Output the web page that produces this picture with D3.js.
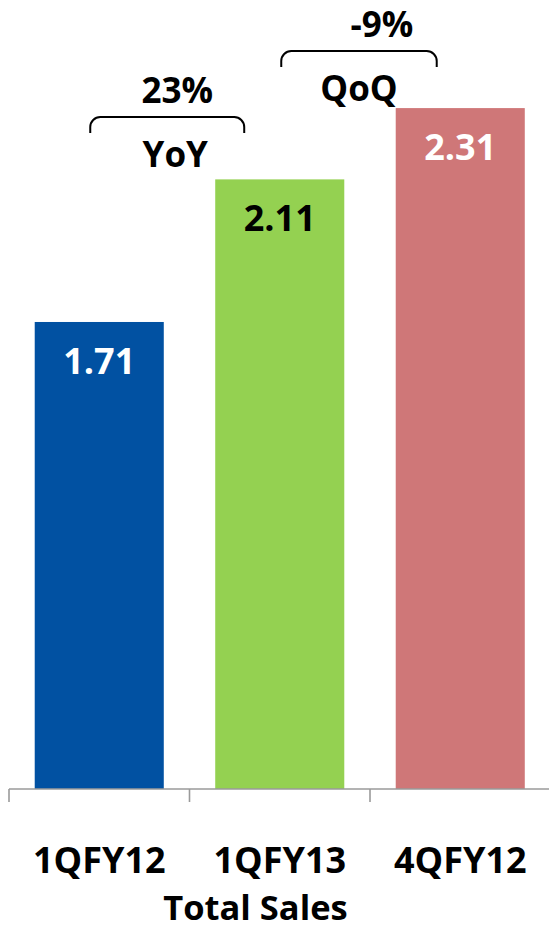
<!DOCTYPE html>
<html>
<head>
<meta charset="utf-8">
<script src="https://cdn.jsdelivr.net/npm/d3@7"></script>
<style>
  html, body { margin: 0; padding: 0; background: #ffffff; }
  svg { display: block; }
  text { font-family: "Open Sans", "Noto Sans", sans-serif; font-weight: 700; }
</style>
</head>
<body>
<svg id="chart" width="549" height="929"></svg>
<script>
// Quarterly total sales
const categories = ["1QFY12", "1QFY13", "4QFY12"];
const sales = [1.71, 2.11, 2.31];
const barColors = ["#0151a2", "#94d151", "#cf7778"];
const labelColors = ["#ffffff", "#000000", "#ffffff"];
const axisTitle = "Total Sales";

// Growth comparisons shown as brackets above the bars
const compareNames = ["YoY", "QoQ"];
const compareChanges = ["23%", "-9%"];

const svg = d3.select("#chart");
const W = 549, H = 929;
const baseY = 789;

const x = d3.scaleBand()
  .domain(categories)
  .range([9, 550.5])
  .paddingInner(0.285)
  .paddingOuter(0.1425);

const y = d3.scaleLinear()
  .domain([0.4, 2.6])
  .range([baseY, 4.7]);

const data = categories.map((c, i) => ({ cat: c, value: sales[i], color: barColors[i], label: labelColors[i] }));

// Bars
svg.append("g").selectAll("rect")
  .data(data)
  .join("rect")
  .attr("x", d => x(d.cat))
  .attr("y", d => y(d.value))
  .attr("width", x.bandwidth())
  .attr("height", d => baseY - y(d.value))
  .attr("fill", d => d.color);

// Value labels inside the bars
svg.append("g").selectAll("text")
  .data(data)
  .join("text")
  .attr("x", d => x(d.cat) + x.bandwidth() / 2)
  .attr("y", d => y(d.value) + 52)
  .attr("text-anchor", "middle")
  .attr("font-size", 36)
  .attr("fill", d => d.label)
  .text(d => d.value.toFixed(2));

// Category axis: baseline with ticks at the category boundaries
const axisColor = "#9a9a9a";
const axisG = svg.append("g");
axisG.append("line")
  .attr("x1", x.range()[0]).attr("x2", W)
  .attr("y1", baseY).attr("y2", baseY)
  .attr("stroke", axisColor).attr("stroke-width", 1.6);
axisG.selectAll("line.tick")
  .data(categories)
  .join("line")
  .attr("class", "tick")
  .attr("x1", d => x(d) - x.step() * x.paddingInner() / 2)
  .attr("x2", d => x(d) - x.step() * x.paddingInner() / 2)
  .attr("y1", baseY).attr("y2", baseY + 13)
  .attr("stroke", axisColor).attr("stroke-width", 1.6);

axisG.selectAll("text.cat")
  .data(categories)
  .join("text")
  .attr("class", "cat")
  .attr("x", d => x(d) + x.bandwidth() / 2)
  .attr("y", 873)
  .attr("text-anchor", "middle")
  .attr("font-size", 36)
  .attr("fill", "#000")
  .text(d => d);

svg.append("text")
  .attr("x", 255.5)
  .attr("y", 919.5)
  .attr("text-anchor", "middle")
  .attr("font-size", 34.5)
  .attr("fill", "#000")
  .text(axisTitle);

// Comparison brackets: layout for each bracket (left, right, top)
const bracketLayout = [
  { x0: x(categories[0]) + x.bandwidth() / 2 - 9, x1: x(categories[1]) + 29, top: 117 },
  { x0: x(categories[1]) + x.bandwidth() / 2 + 1.5, x1: x(categories[2]) + 41, top: 51 }
];
const bracketDepth = 16, r = 10;

const brackets = svg.append("g").selectAll("g")
  .data(compareNames.map((n, i) => ({ name: n, change: compareChanges[i], ...bracketLayout[i] })))
  .join("g");

brackets.append("path")
  .attr("d", d => {
    const p = d3.path();
    p.moveTo(d.x0, d.top + bracketDepth);
    p.lineTo(d.x0, d.top + r);
    p.arcTo(d.x0, d.top, d.x0 + r, d.top, r);
    p.lineTo(d.x1 - r, d.top);
    p.arcTo(d.x1, d.top, d.x1, d.top + r, r);
    p.lineTo(d.x1, d.top + bracketDepth);
    return p.toString();
  })
  .attr("fill", "none")
  .attr("stroke", "#000")
  .attr("stroke-width", 2);

brackets.append("text")
  .attr("x", d => (d.x0 + d.x1) / 2 + (d.name === "YoY" ? 10 : 23))
  .attr("y", d => d.top - 14)
  .attr("text-anchor", "middle")
  .attr("font-size", 35)
  .attr("fill", "#000")
  .text(d => d.change);

brackets.append("text")
  .attr("x", d => (d.x0 + d.x1) / 2 + (d.name === "YoY" ? 8 : 0))
  .attr("y", d => d.top + 50)
  .attr("text-anchor", "middle")
  .attr("font-size", 35)
  .attr("fill", "#000")
  .text(d => d.name);
</script>
</body>
</html>
